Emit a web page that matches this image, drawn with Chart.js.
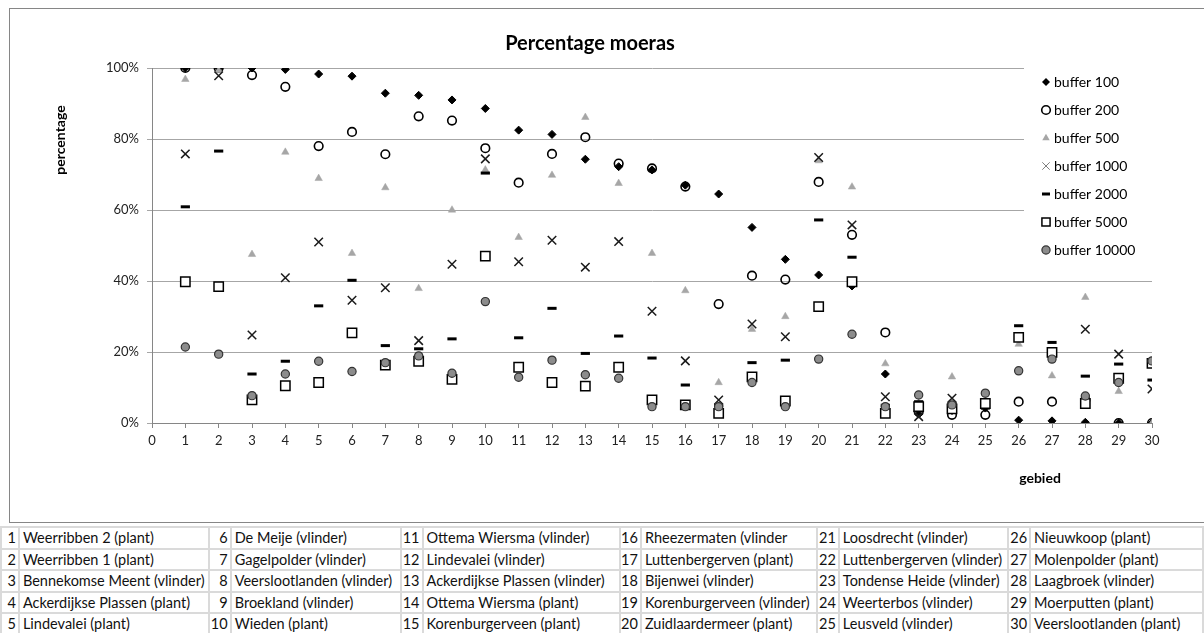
<!DOCTYPE html>
<html>
<head>
<meta charset="utf-8">
<title>Percentage moeras</title>
<script src="https://cdn.jsdelivr.net/npm/chart.js@4.4.1/dist/chart.umd.min.js"></script>
<style>
  html, body { margin: 0; padding: 0; background: #fff; overflow: hidden; }
  #chartBox { position: absolute; left: 0; top: 0; width: 1204px; height: 522px; }
  #frame { position: absolute; left: 9px; top: 8px; width: 1400px; height: 513px; border: 1px solid #868686; pointer-events: none; }
  #areas { position: absolute; left: 0; top: 526px; border-collapse: collapse; table-layout: fixed;
           font-family: Lato, "Open Sans", sans-serif; font-size: 14.5px; color: #111; }
  #areas td { border: 2px solid #dadada; height: 19.5px; padding: 0 3px; white-space: nowrap; overflow: hidden; line-height: 19.5px; }
  #areas td.nr { text-align: right; padding: 0 2px 0 0; }
</style>
</head>
<body>
<div id="chartBox"><canvas id="c" width="1204" height="522"></canvas></div>
<div id="frame"></div>
<table id="areas"></table>
<script>
// area numbers on the x axis
const gebiedNr = [1,2,3,4,5,6,7,8,9,10,11,12,13,14,15,16,17,18,19,20,21,22,23,24,25,26,27,28,29,30];

// share of marsh (%) around each area, per buffer radius (m)
const buffer100   = [100,100,100,99.6,98.3,97.7,92.9,92.3,91.0,88.6,82.5,81.3,74.3,72.2,71.3,67.0,64.5,55.1,46.1,41.7,38.6,13.8,2.5,3.5,4.2,0.8,0.6,0.2,0,0];
const buffer200   = [100,100,98.0,94.7,78.0,82.0,75.7,86.4,85.2,77.4,67.7,75.8,80.5,73.1,71.7,66.6,33.5,41.5,40.4,67.9,53.0,25.5,3.2,2.3,2.3,6.0,6.0,6.5,0,0];
const buffer500   = [96.8,99.3,47.5,76.3,68.9,47.8,66.3,37.9,60.0,71.3,52.3,69.8,86.1,67.5,47.8,37.3,11.4,26.4,30.0,73.9,66.5,16.7,5.5,13.0,5.0,22.2,13.3,35.4,8.9,0];
const buffer1000  = [75.8,97.8,24.8,40.9,51.0,34.6,38.1,23.2,44.7,74.4,45.4,51.5,43.9,51.1,31.5,17.5,6.5,27.9,24.3,74.8,55.8,7.4,1.8,7.0,5.0,24.1,19.5,26.4,19.4,9.6];
const buffer2000  = [60.9,76.6,13.8,17.4,33.0,40.2,21.8,20.9,23.7,70.4,24.0,32.3,19.6,24.5,18.3,10.7,5.0,17.0,17.7,57.2,46.7,5.0,6.0,5.5,5.6,27.4,22.7,13.2,16.6,12.1];
const buffer5000  = [39.8,38.4,6.5,10.5,11.4,25.4,16.3,17.4,12.3,47.0,15.7,11.4,10.4,15.7,6.5,5.1,2.7,13.0,6.2,32.8,39.8,2.7,4.6,4.0,5.5,24.1,19.9,5.5,12.6,16.8];
const buffer10000 = [21.4,19.4,7.7,13.8,17.4,14.5,17.0,18.9,14.0,34.2,12.9,17.7,13.6,12.6,4.6,4.6,4.6,11.4,4.6,18.0,25.0,4.6,7.9,5.1,8.4,14.7,18.0,7.6,11.4,17.5];

const seriesNames = ['buffer 100','buffer 200','buffer 500','buffer 1000','buffer 2000','buffer 5000','buffer 10000'];
const yTicks = [0, 20, 40, 60, 80, 100];

// area names listed under the chart
const areaNames = [
  'Weerribben 2 (plant)','Weerribben 1 (plant)','Bennekomse Meent (vlinder)','Ackerdijkse Plassen (plant)','Lindevalei (plant)',
  'De Meije (vlinder)','Gagelpolder (vlinder)','Veerslootlanden (vlinder)','Broekland (vlinder)','Wieden (plant)',
  'Ottema Wiersma (vlinder)','Lindevalei (vlinder)','Ackerdijkse Plassen (vlinder)','Ottema Wiersma (plant)','Korenburgerveen (plant)',
  'Rheezermaten (vlinder','Luttenbergerven (plant)','Bijenwei (vlinder)','Korenburgerveen (vlinder)','Zuidlaardermeer (plant)',
  'Loosdrecht (vlinder)','Luttenbergerven (vlinder)','Tondense Heide (vlinder)','Weerterbos (vlinder)','Leusveld (vlinder)',
  'Nieuwkoop (plant)','Molenpolder (plant)','Laagbroek (vlinder)','Moerputten (plant)','Veerslootlanden (plant)'
];

// ---- table of area names (6 columns x 5 rows) ----
(function buildTable() {
  const colW = [[23,190],[23,174],[23,208],[17,179],[23,171],[23,190]];
  const tbl = document.getElementById('areas');
  const cg = document.createElement('colgroup');
  colW.forEach(([a,b]) => {
    const c1 = document.createElement('col'); c1.style.width = a + 'px';
    const c2 = document.createElement('col'); c2.style.width = b + 'px';
    cg.appendChild(c1); cg.appendChild(c2);
  });
  tbl.appendChild(cg);
  for (let r = 0; r < 5; r++) {
    const tr = document.createElement('tr');
    for (let c = 0; c < 6; c++) {
      const i = c * 5 + r;
      const td1 = document.createElement('td'); td1.className = 'nr'; td1.textContent = gebiedNr[i];
      const td2 = document.createElement('td'); td2.textContent = areaNames[i];
      tr.appendChild(td1); tr.appendChild(td2);
    }
    tbl.appendChild(tr);
  }
})();

const FONT = 'Lato, "Open Sans", sans-serif';
const GRAY_TRI = '#a6a6a6';

const styles = [
  { pointStyle: 'rectRot',  radius: 4,   bg: '#000',    border: '#000',    bw: 1 },
  { pointStyle: 'circle',   radius: 4.3, bg: 'rgba(0,0,0,0)', border: '#000', bw: 1.6 },
  { pointStyle: 'triangle', radius: 4.3, bg: GRAY_TRI,  border: GRAY_TRI,  bw: 0.5 },
  { pointStyle: 'crossRot', radius: 6,   bg: '#1a1a1a', border: '#1a1a1a', bw: 1.5 },
  { pointStyle: 'line',     radius: 4.6, bg: '#000',    border: '#000',    bw: 3 },
  { pointStyle: 'rect',     radius: 6.6, bg: '#fff',    border: '#000',    bw: 1.5 },
  { pointStyle: 'circle',   radius: 4.1, bg: '#8c8c8c', border: '#333',    bw: 1.2 }
];
const values = [buffer100, buffer200, buffer500, buffer1000, buffer2000, buffer5000, buffer10000];

const datasets = values.map((vals, i) => ({
  label: seriesNames[i],
  data: vals.map((v, k) => ({ x: gebiedNr[k], y: v })),
  showLine: false,
  pointStyle: styles[i].pointStyle,
  pointRadius: styles[i].radius,
  pointHoverRadius: styles[i].radius,
  pointBackgroundColor: styles[i].bg,
  pointBorderColor: styles[i].border,
  pointBorderWidth: styles[i].bw,
  order: values.length - i   // later buffers drawn on top
}));

// small marker drawer for the legend
function drawMarker(ctx, s, x, y) {
  ctx.save();
  ctx.fillStyle = s.bg; ctx.strokeStyle = s.border; ctx.lineWidth = s.bw;
  const r = s.radius;
  ctx.beginPath();
  switch (s.pointStyle) {
    case 'rectRot':
      ctx.moveTo(x, y - r); ctx.lineTo(x + r, y); ctx.lineTo(x, y + r); ctx.lineTo(x - r, y); ctx.closePath();
      ctx.fill(); break;
    case 'circle':
      ctx.arc(x, y, r, 0, Math.PI * 2); ctx.fill(); ctx.stroke(); break;
    case 'triangle':
      ctx.moveTo(x, y - r); ctx.lineTo(x + r * 0.87, y + r * 0.5); ctx.lineTo(x - r * 0.87, y + r * 0.5); ctx.closePath();
      ctx.fill(); break;
    case 'crossRot': {
      const d = r * 0.62; ctx.strokeStyle = '#7f7f7f'; ctx.lineWidth = 1;
      ctx.moveTo(x - d, y - d); ctx.lineTo(x + d, y + d); ctx.moveTo(x + d, y - d); ctx.lineTo(x - d, y + d); ctx.stroke(); break;
    }
    case 'line':
      ctx.moveTo(x - r, y); ctx.lineTo(x + r, y); ctx.stroke(); break;
    case 'rect': {
      const h = r * 0.68; ctx.rect(x - h, y - h, 2 * h, 2 * h); ctx.fill(); ctx.stroke(); break;
    }
  }
  ctx.restore();
}

const decorations = {
  id: 'decorations',
  afterDraw(chart) {
    const ctx = chart.ctx;
    ctx.save();
    // title
    ctx.fillStyle = '#000';
    ctx.font = 'bold 20px ' + FONT;
    ctx.textAlign = 'center'; ctx.textBaseline = 'middle';
    ctx.fillText('Percentage moeras', 590, 44);
    // axis titles
    ctx.font = 'bold 14px ' + FONT;
    ctx.fillText('gebied', 1040, 478);
    ctx.translate(60, 140); ctx.rotate(-Math.PI / 2);
    ctx.fillText('percentage', 0, 0);
    ctx.restore();

    // legend panel inside the plot area
    ctx.save();
    ctx.fillStyle = '#fff';
    ctx.fillRect(1024, 66, 128, 196);
    ctx.font = '14px ' + FONT; ctx.fillStyle = '#000';
    ctx.textAlign = 'left'; ctx.textBaseline = 'middle';
    seriesNames.forEach((name, i) => {
      const y = 82 + i * 28;
      const s = Object.assign({}, styles[i]);
      if (s.pointStyle === 'rect') s.radius = 6;
      if (s.pointStyle === 'line') s.radius = 4;
      drawMarker(ctx, s, 1046, y);
      ctx.fillStyle = '#000';
      ctx.fillText(name, 1054, y);
    });
    ctx.restore();
  }
};

new Chart(document.getElementById('c'), {
  type: 'scatter',
  data: { datasets },
  options: {
    responsive: false,
    animation: false,
    events: [],
    layout: { padding: { top: 68, right: 52, left: 0, bottom: 0 } },
    plugins: { legend: { display: false }, tooltip: { enabled: false }, title: { display: false } },
    scales: {
      x: {
        type: 'linear', min: 0, max: 30,
        afterBuildTicks: s => { s.ticks = [0].concat(gebiedNr).map(v => ({ value: v })); },
        grid: { display: true, drawOnChartArea: false, drawTicks: true, tickLength: 5, color: '#868686' },
        border: { display: true, color: '#868686', width: 1 },
        ticks: { font: { family: FONT, size: 13 }, color: '#222', padding: 5, maxRotation: 0, autoSkip: false },
        afterFit: s => { s.height = 522 - 423; }
      },
      y: {
        type: 'linear', min: 0, max: 100,
        afterBuildTicks: s => { s.ticks = yTicks.map(v => ({ value: v })); },
        grid: { display: true, drawOnChartArea: true, drawTicks: true, tickLength: 5, color: '#a6a6a6' },
        border: { display: true, color: '#868686', width: 1 },
        ticks: { font: { family: FONT, size: 13 }, color: '#222', padding: 8, callback: v => v + '%' },
        afterFit: s => { s.width = 152; }
      }
    }
  },
  plugins: [decorations]
});
</script>
</body>
</html>
